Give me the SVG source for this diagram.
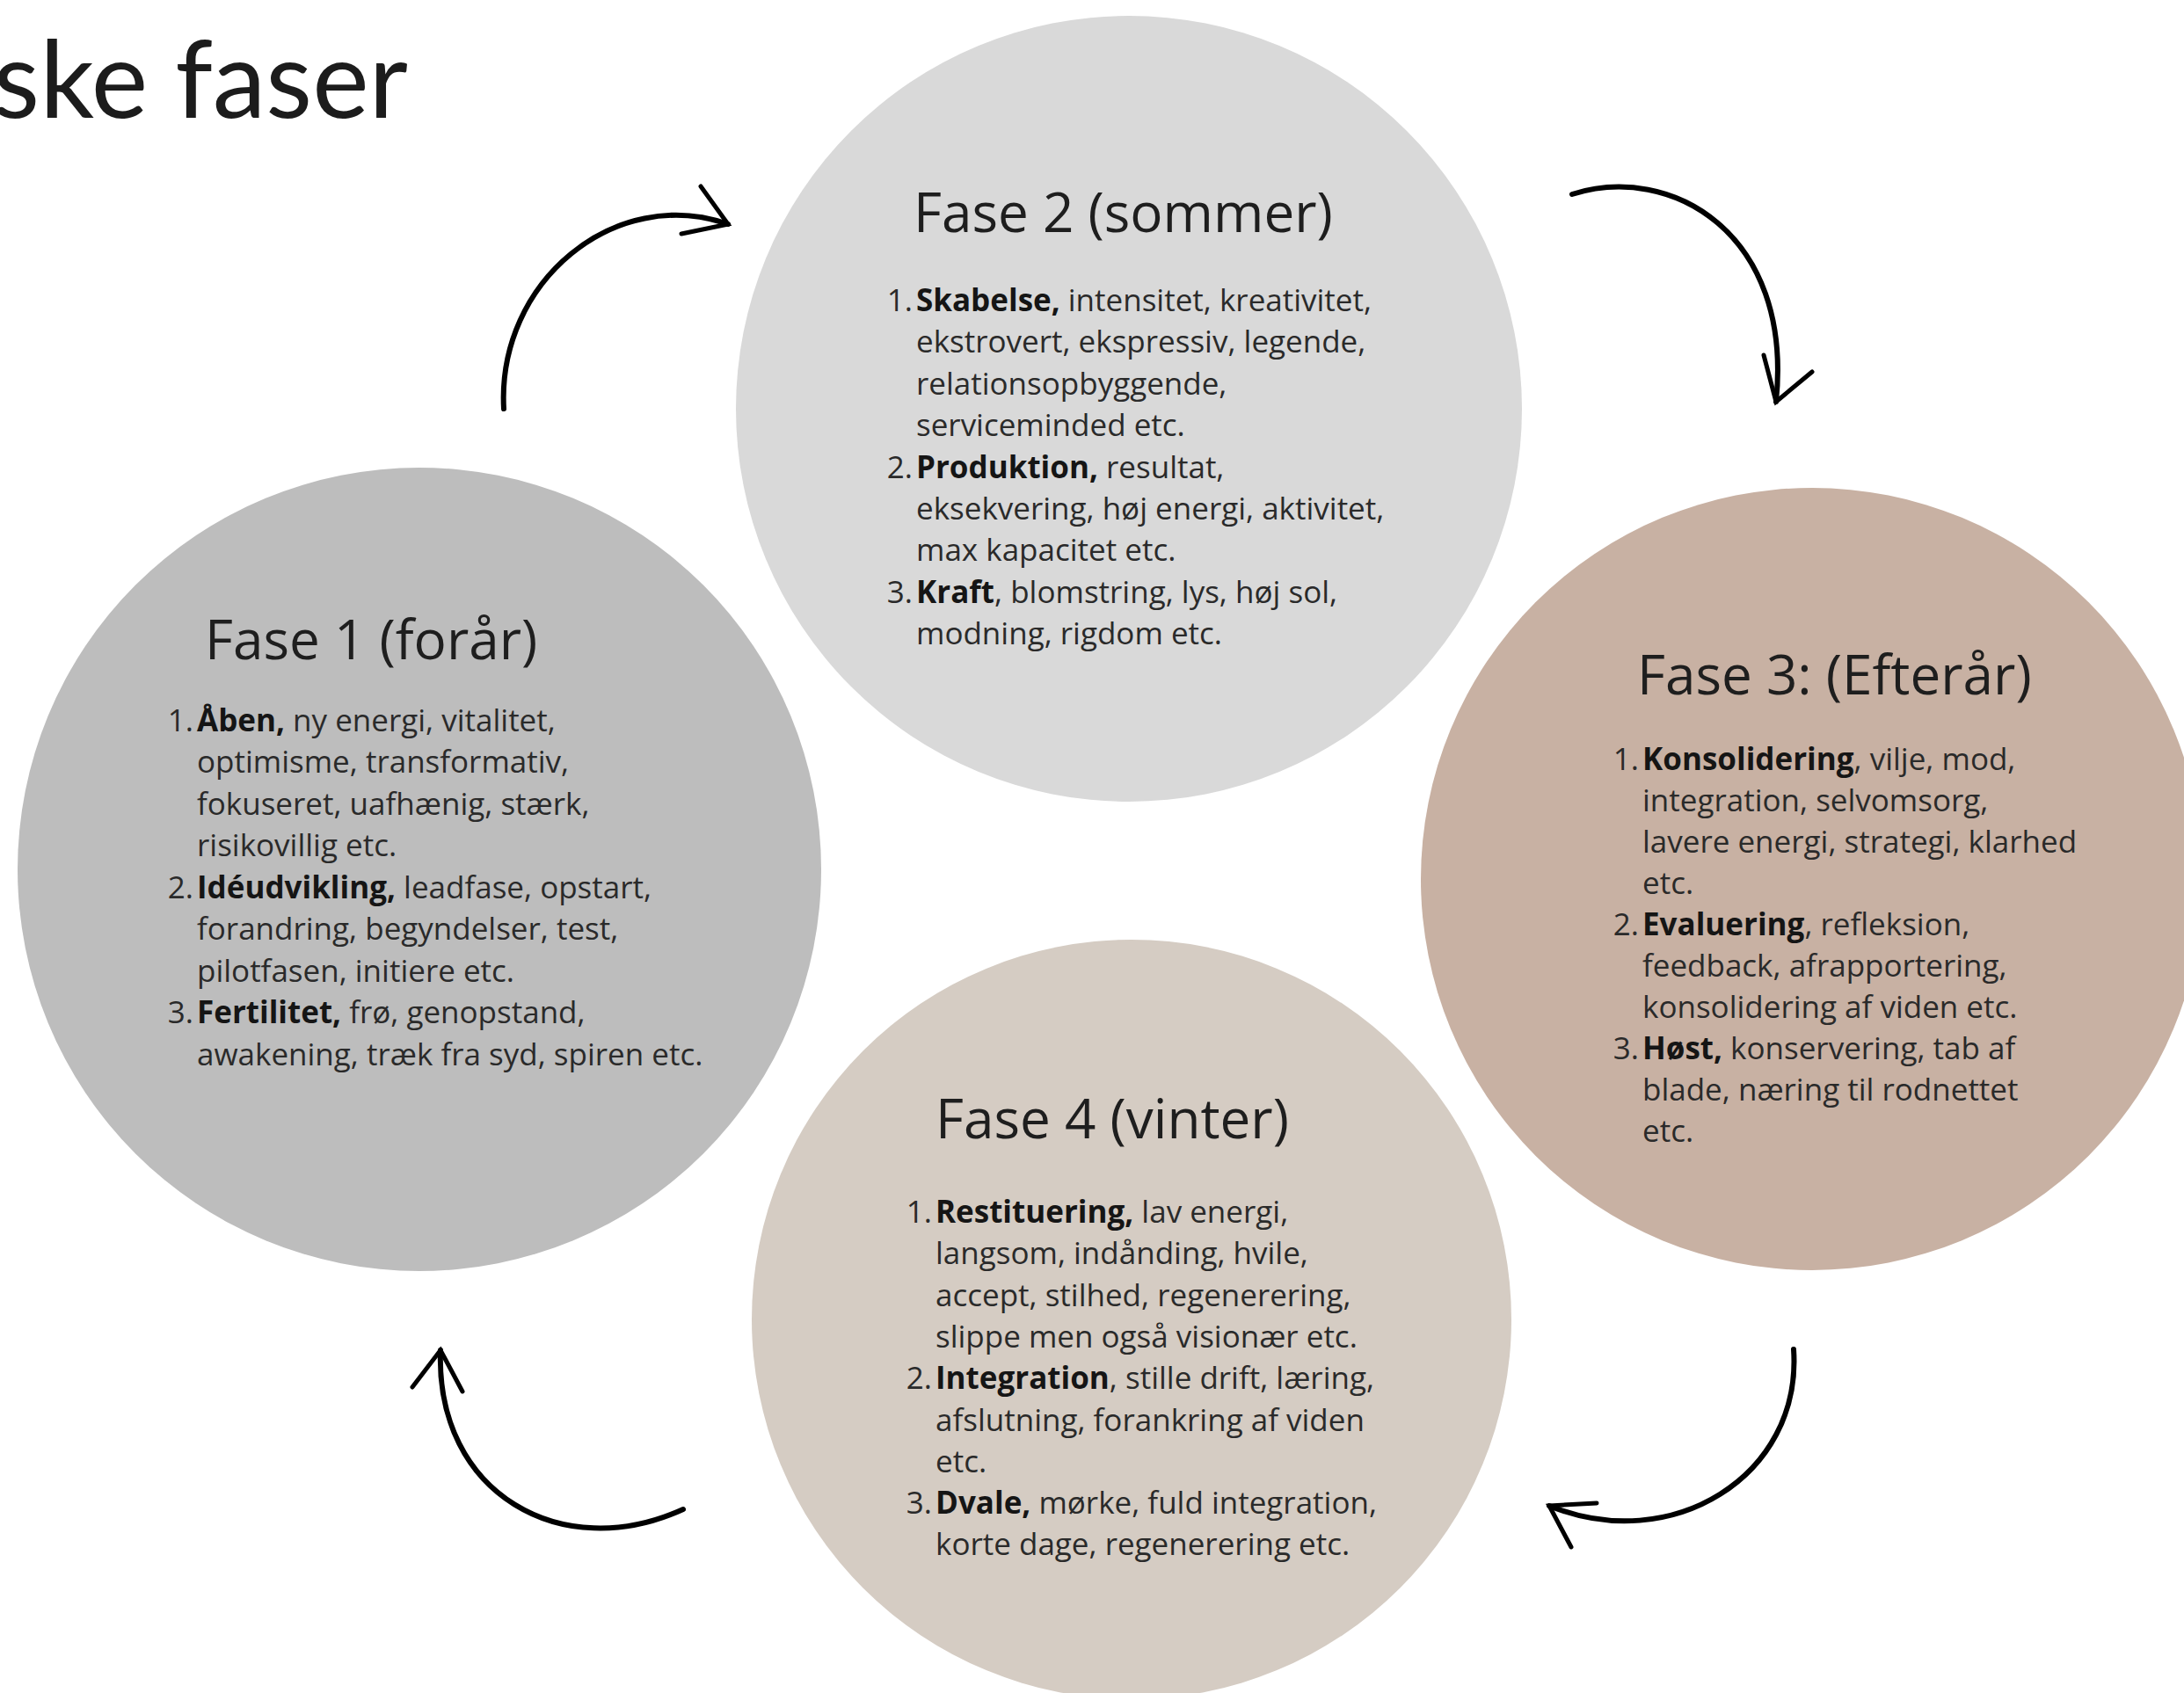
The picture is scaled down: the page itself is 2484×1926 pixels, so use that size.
<svg xmlns="http://www.w3.org/2000/svg" width="2484" height="1926" viewBox="0 0 2484 1926">
<defs>
<style>
.title{font-family:"Open Sans","Noto Sans",sans-serif;font-size:62px;fill:#1e1e1e}
.body{font-family:"Open Sans","Noto Sans",sans-serif;font-size:35px;fill:#2a2a2a}
.b{font-weight:bold;fill:#151515}
.num{text-anchor:end}
.arrow{fill:none;stroke:#000;stroke-width:6;stroke-linecap:round;stroke-linejoin:round}
.head{fill:none;stroke:#000;stroke-width:5;stroke-linecap:round;stroke-linejoin:miter}
</style>
</defs>
<rect width="2484" height="1926" fill="#ffffff"/>
<text x="464" y="134" text-anchor="end" font-family="Lato, 'Noto Sans', sans-serif" font-size="122" fill="#1c1c1c">ske faser</text>

<g id="fase2">
<circle cx="1284" cy="465" r="447" fill="#d9d9d9"/>
<text class="title" x="1039" y="264">Fase 2 (sommer)</text>
<text class="body">
<tspan class="num" x="1038" y="354">1.</tspan><tspan x="1042" y="354"><tspan class="b">Skabelse,</tspan> intensitet, kreativitet,</tspan>
<tspan x="1042" y="401">ekstrovert, ekspressiv, legende,</tspan>
<tspan x="1042" y="449">relationsopbyggende,</tspan>
<tspan x="1042" y="496">serviceminded etc.</tspan>
<tspan class="num" x="1038" y="544">2.</tspan><tspan x="1042" y="544"><tspan class="b">Produktion,</tspan> resultat,</tspan>
<tspan x="1042" y="591">eksekvering, høj energi, aktivitet,</tspan>
<tspan x="1042" y="638">max kapacitet etc.</tspan>
<tspan class="num" x="1038" y="686">3.</tspan><tspan x="1042" y="686"><tspan class="b">Kraft</tspan>, blomstring, lys, høj sol,</tspan>
<tspan x="1042" y="733">modning, rigdom etc.</tspan>
</text>
</g>

<g id="fase1">
<circle cx="477" cy="989" r="457" fill="#bdbdbd"/>
<text class="title" x="233" y="750">Fase 1 (forår)</text>
<text class="body">
<tspan class="num" x="220" y="832">1.</tspan><tspan x="224" y="832"><tspan class="b">Åben,</tspan> ny energi, vitalitet,</tspan>
<tspan x="224" y="879">optimisme, transformativ,</tspan>
<tspan x="224" y="927">fokuseret, uafhænig, stærk,</tspan>
<tspan x="224" y="974">risikovillig etc.</tspan>
<tspan class="num" x="220" y="1022">2.</tspan><tspan x="224" y="1022"><tspan class="b">Idéudvikling,</tspan> leadfase, opstart,</tspan>
<tspan x="224" y="1069">forandring, begyndelser, test,</tspan>
<tspan x="224" y="1117">pilotfasen, initiere etc.</tspan>
<tspan class="num" x="220" y="1164">3.</tspan><tspan x="224" y="1164"><tspan class="b">Fertilitet,</tspan> frø, genopstand,</tspan>
<tspan x="224" y="1212">awakening, træk fra syd, spiren etc.</tspan>
</text>
</g>

<g id="fase3">
<circle cx="2061" cy="1000" r="445" fill="#c8b1a3"/>
<text class="title" x="1862" y="790">Fase 3: (Efterår)</text>
<text class="body">
<tspan class="num" x="1864" y="876">1.</tspan><tspan x="1868" y="876"><tspan class="b">Konsolidering</tspan>, vilje, mod,</tspan>
<tspan x="1868" y="923">integration, selvomsorg,</tspan>
<tspan x="1868" y="970">lavere energi, strategi, klarhed</tspan>
<tspan x="1868" y="1017">etc.</tspan>
<tspan class="num" x="1864" y="1064">2.</tspan><tspan x="1868" y="1064"><tspan class="b">Evaluering</tspan>, refleksion,</tspan>
<tspan x="1868" y="1111">feedback, afrapportering,</tspan>
<tspan x="1868" y="1158">konsolidering af viden etc.</tspan>
<tspan class="num" x="1864" y="1205">3.</tspan><tspan x="1868" y="1205"><tspan class="b">Høst,</tspan> konservering, tab af</tspan>
<tspan x="1868" y="1252">blade, næring til rodnettet</tspan>
<tspan x="1868" y="1299">etc.</tspan>
</text>
</g>

<g id="fase4">
<circle cx="1287" cy="1501" r="432" fill="#d5ccc3"/>
<text class="title" x="1064" y="1295">Fase 4 (vinter)</text>
<text class="body">
<tspan class="num" x="1060" y="1391">1.</tspan><tspan x="1064" y="1391"><tspan class="b">Restituering,</tspan> lav energi,</tspan>
<tspan x="1064" y="1438">langsom, indånding, hvile,</tspan>
<tspan x="1064" y="1486">accept, stilhed, regenerering,</tspan>
<tspan x="1064" y="1533">slippe men også visionær etc.</tspan>
<tspan class="num" x="1060" y="1580">2.</tspan><tspan x="1064" y="1580"><tspan class="b">Integration</tspan>, stille drift, læring,</tspan>
<tspan x="1064" y="1628">afslutning, forankring af viden</tspan>
<tspan x="1064" y="1675">etc.</tspan>
<tspan class="num" x="1060" y="1722">3.</tspan><tspan x="1064" y="1722"><tspan class="b">Dvale,</tspan> mørke, fuld integration,</tspan>
<tspan x="1064" y="1769">korte dage, regenerering etc.</tspan>
</text>
</g>

<g id="connectors">
<path class="arrow" d="M573,465 C565,320 700,210 828,255"/>
<path class="head" d="M797,212 L828,255 L775,266"/>
<path class="arrow" d="M1788,221 C1900,185 2040,265 2020,457"/>
<path class="head" d="M2006,404 L2020,457 L2061,423"/>
<path class="arrow" d="M2040,1535 C2050,1680 1900,1770 1762,1713"/>
<path class="head" d="M1816,1710 L1762,1713 L1787,1760"/>
<path class="arrow" d="M777,1717 C640,1780 495,1700 501,1536"/>
<path class="head" d="M469,1578 L501,1536 L526,1583"/>
</g>
</svg>
